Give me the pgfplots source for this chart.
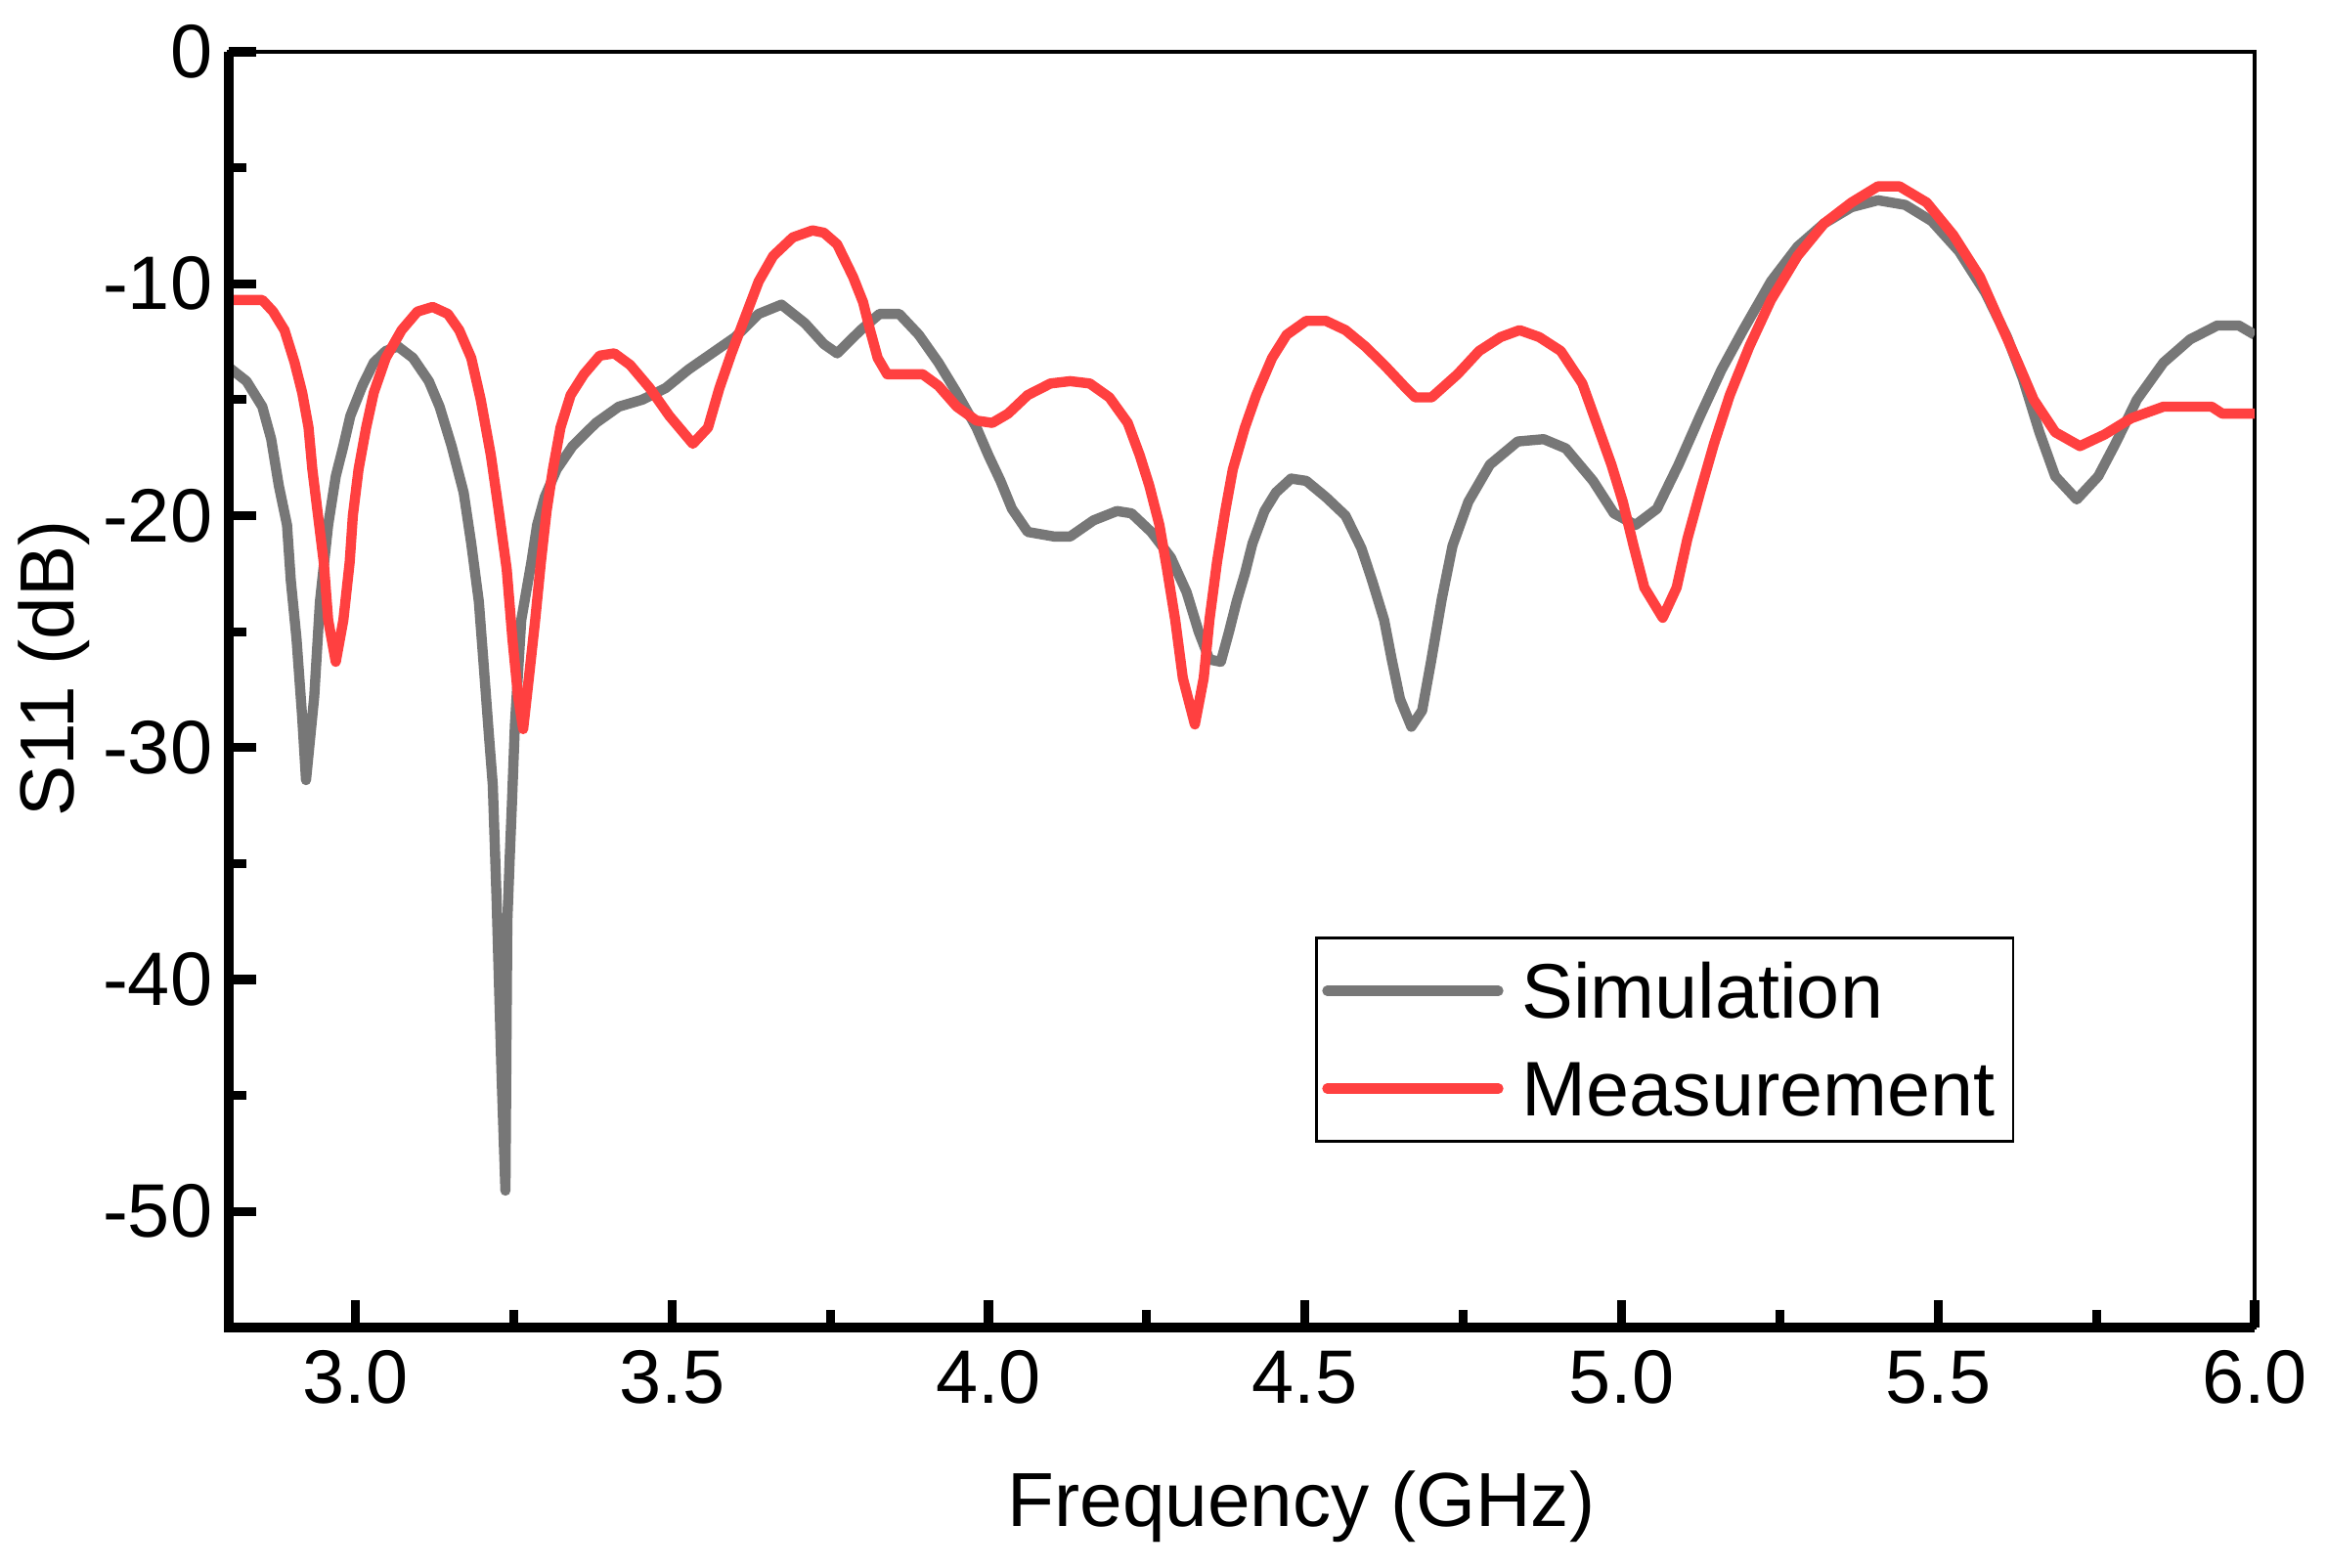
\documentclass[border=0pt]{standalone}
\usepackage{fontspec}
\setmainfont{Liberation Sans}
\usepackage{pgfplots}
\pgfplotsset{compat=1.18}
\definecolor{simgray}{RGB}{119,119,119}
\definecolor{measred}{RGB}{255,64,64}
\begin{document}
\begin{tikzpicture}
\begin{axis}[
  name=ax, scale only axis, width=497.3pt, height=313.2pt,
  xmin=2.8, xmax=6.0, ymin=-55, ymax=0,
  xtick={3,3.5,4,4.5,5,5.5,6}, xticklabels={3.0,3.5,4.0,4.5,5.0,5.5,6.0},
  ytick={-50,-40,-30,-20,-10,0}, yticklabels={-50,-40,-30,-20,-10,0},
  minor x tick num=1, minor y tick num=1,
  tick pos=left, tick align=inside,
  major tick length=6.8pt, minor tick length=4.4pt,
  tick style={black, line width=2.2pt},
  axis line style={line width=1.1pt},
  tick label style={font=\fontsize{18.6}{22}\selectfont},
  xticklabel style={yshift=-2.2pt},
  yticklabel style={xshift=-0.5pt},
  xlabel={Frequency (GHz)}, ylabel={S11 (dB)},
  label style={font=\fontsize{18.8}{22}\selectfont},
  xlabel style={at={(axis description cs:0.5294,-0.1563)}, anchor=base},
  ylabel style={at={(axis description cs:-0.0763,0.5165)}, anchor=base},
  clip mode=individual,
  legend style={at={(axis description cs:0.8813,0.1448)}, anchor=south east, draw=black, line width=0.6pt, fill=white,
    inner xsep=1.4pt, inner ysep=1pt, row sep=0pt, column sep=1.5pt,
    font=\fontsize{19}{22}\selectfont,
    nodes={inner sep=3pt, text height=15.8pt, text depth=2.2pt}},
  legend cell align=left,
  legend image code/.code={\draw[#1, line cap=round] (0pt,0pt) -- (42pt,0pt);},
]
\addplot[simgray, line width=2.5pt, line join=round] coordinates {
(2.800,-13.6) (2.828,-14.2) (2.853,-15.3) (2.867,-16.7) (2.879,-18.7) (2.892,-20.4)
(2.898,-22.8) (2.907,-25.3) (2.916,-28.7) (2.922,-31.4) (2.935,-27.8) (2.944,-23.7)
(2.957,-20.4) (2.969,-18.3) (2.981,-17.0) (2.992,-15.7) (3.011,-14.4) (3.029,-13.4)
(3.048,-12.9) (3.067,-12.7) (3.091,-13.2) (3.116,-14.2) (3.133,-15.3) (3.152,-17.0)
(3.171,-19.0) (3.183,-21.2) (3.195,-23.7) (3.202,-26.2) (3.211,-29.5) (3.217,-31.6)
(3.223,-36.5) (3.226,-39.4) (3.231,-44.2) (3.237,-49.1) (3.240,-37.5) (3.244,-34.6)
(3.247,-32.6) (3.252,-29.0) (3.262,-24.5) (3.278,-22.0) (3.287,-20.4) (3.299,-19.2)
(3.318,-18.0) (3.343,-17.0) (3.380,-16.0) (3.416,-15.3) (3.453,-15.0) (3.490,-14.5)
(3.526,-13.7) (3.563,-13.0) (3.600,-12.3) (3.637,-11.3) (3.673,-10.9) (3.710,-11.7)
(3.740,-12.6) (3.761,-13.0) (3.798,-12.0) (3.828,-11.3) (3.859,-11.3) (3.890,-12.2)
(3.921,-13.4) (3.950,-14.7) (3.981,-16.2) (4.000,-17.4) (4.019,-18.5) (4.037,-19.7)
(4.062,-20.7) (4.104,-20.9) (4.129,-20.9) (4.166,-20.2) (4.203,-19.8) (4.226,-19.9)
(4.257,-20.7) (4.288,-21.8) (4.313,-23.3) (4.332,-25.0) (4.349,-26.2) (4.367,-26.3)
(4.380,-25.0) (4.392,-23.7) (4.405,-22.5) (4.417,-21.2) (4.436,-19.8) (4.454,-19.0)
(4.478,-18.4) (4.502,-18.5) (4.533,-19.2) (4.564,-20.0) (4.589,-21.4) (4.606,-22.8)
(4.625,-24.5) (4.637,-26.2) (4.650,-27.9) (4.668,-29.1) (4.685,-28.4) (4.699,-26.3)
(4.716,-23.6) (4.733,-21.3) (4.758,-19.4) (4.792,-17.8) (4.836,-16.8) (4.877,-16.7)
(4.912,-17.1) (4.955,-18.5) (4.988,-19.9) (5.022,-20.4) (5.056,-19.7) (5.090,-17.8)
(5.124,-15.7) (5.158,-13.7) (5.192,-12.0) (5.236,-9.9) (5.278,-8.4) (5.320,-7.4)
(5.363,-6.7) (5.405,-6.4) (5.448,-6.6) (5.490,-7.3) (5.533,-8.6) (5.575,-10.4)
(5.609,-12.3) (5.634,-14.1) (5.660,-16.4) (5.685,-18.3) (5.719,-19.3) (5.753,-18.3)
(5.780,-16.9) (5.814,-15.0) (5.856,-13.4) (5.898,-12.4) (5.941,-11.8) (5.975,-11.8)
(6.000,-12.2)
};
\addlegendentry{Simulation}
\addplot[measred, line width=2.5pt, line join=round] coordinates {
(2.800,-10.7) (2.853,-10.7) (2.870,-11.2) (2.888,-12.0) (2.904,-13.4) (2.916,-14.7)
(2.926,-16.2) (2.932,-18.0) (2.941,-20.0) (2.950,-22.0) (2.957,-24.5) (2.969,-26.3)
(2.981,-24.5) (2.991,-22.0) (2.996,-20.0) (3.005,-18.0) (3.017,-16.2) (3.029,-14.7)
(3.048,-13.2) (3.073,-12.0) (3.098,-11.2) (3.122,-11.0) (3.146,-11.3) (3.164,-12.0)
(3.183,-13.2) (3.198,-15.0) (3.214,-17.4) (3.226,-19.7) (3.239,-22.3) (3.248,-25.3)
(3.257,-27.8) (3.265,-29.2) (3.274,-27.0) (3.284,-24.5) (3.293,-22.0) (3.302,-19.8)
(3.312,-18.0) (3.324,-16.2) (3.340,-14.8) (3.361,-13.9) (3.386,-13.1) (3.409,-13.0)
(3.434,-13.5) (3.465,-14.5) (3.496,-15.7) (3.533,-16.9) (3.557,-16.2) (3.575,-14.5)
(3.594,-13.0) (3.612,-11.7) (3.637,-9.9) (3.660,-8.8) (3.691,-8.0) (3.722,-7.7)
(3.740,-7.8) (3.761,-8.3) (3.786,-9.7) (3.802,-10.8) (3.813,-12.0) (3.825,-13.2)
(3.840,-13.9) (3.896,-13.9) (3.921,-14.4) (3.950,-15.3) (3.981,-15.9) (4.006,-16.0)
(4.031,-15.6) (4.062,-14.8) (4.098,-14.3) (4.129,-14.2) (4.160,-14.3) (4.191,-14.9)
(4.220,-16.0) (4.239,-17.4) (4.254,-18.7) (4.270,-20.4) (4.282,-22.3) (4.295,-24.5)
(4.307,-27.0) (4.326,-29.0) (4.340,-27.0) (4.349,-24.5) (4.361,-22.0) (4.374,-19.8)
(4.386,-18.0) (4.405,-16.2) (4.423,-14.8) (4.448,-13.2) (4.471,-12.2) (4.502,-11.6)
(4.533,-11.6) (4.564,-12.0) (4.595,-12.7) (4.625,-13.5) (4.656,-14.4) (4.674,-14.9)
(4.700,-14.9) (4.741,-13.9) (4.775,-12.9) (4.809,-12.3) (4.839,-12.0) (4.870,-12.3)
(4.904,-12.9) (4.938,-14.3) (4.963,-16.2) (4.984,-17.8) (5.002,-19.4) (5.019,-21.3)
(5.036,-23.1) (5.065,-24.4) (5.087,-23.1) (5.104,-21.0) (5.124,-19.0) (5.146,-16.9)
(5.171,-14.8) (5.202,-12.7) (5.236,-10.7) (5.278,-8.8) (5.320,-7.4) (5.363,-6.5)
(5.405,-5.8) (5.439,-5.8) (5.482,-6.5) (5.524,-7.9) (5.566,-9.7) (5.600,-11.8)
(5.626,-13.4) (5.651,-15.0) (5.685,-16.4) (5.724,-17.0) (5.763,-16.5) (5.805,-15.8)
(5.856,-15.3) (5.932,-15.3) (5.949,-15.6) (6.000,-15.6)
};
\addlegendentry{Measurement}
\draw[line width=2.3pt] (rel axis cs:0,1) -- (rel axis cs:0,0) -- (rel axis cs:1,0);
\end{axis}
\pgfresetboundingbox
\path[use as bounding box] ([xshift=-56.16pt,yshift=-59.04pt]ax.south west) rectangle ([xshift=17.52pt,yshift=12.72pt]ax.north east);
\end{tikzpicture}
\end{document}
